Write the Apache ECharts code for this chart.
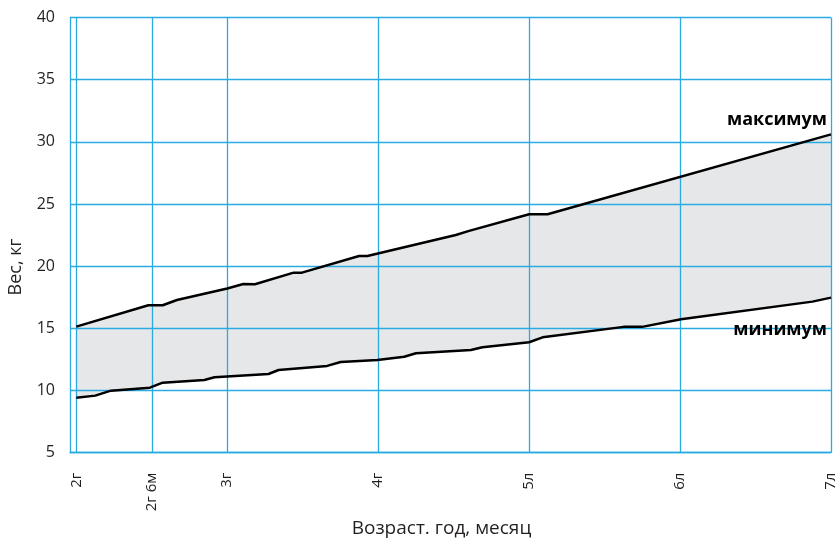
<!DOCTYPE html>
<html>
<head>
<meta charset="utf-8">
<script src="https://cdn.jsdelivr.net/npm/echarts@6/dist/echarts.min.js"></script>
<style>html,body{margin:0;padding:0;background:#fff}#c{width:840px;height:539px}</style>
</head>
<body>
<div id="c"></div>
<script>
// Age in months, weight in kg
const maxAge    = [24, 29.73, 30.87, 32.0, 36.0, 37.28, 38.2, 41.28, 41.94, 46.48, 47.14, 54.17, 55.23, 60.0, 61.47, 84.0];
const maxWeight = [15.14, 16.86, 16.86, 17.28, 18.2, 18.57, 18.55, 19.48, 19.48, 20.82, 20.82, 22.51, 22.84, 24.18, 24.18, 30.6];
const minAge    = [24, 25.51, 26.75, 29.85, 30.87, 34.18, 34.99, 39.28, 40.08, 43.94, 45.02, 47.94, 50.07, 51.0, 55.37, 56.29, 60.0, 61.07, 67.51, 68.99, 72.08, 82.52, 84.0];
const minWeight = [9.42, 9.59, 9.99, 10.23, 10.63, 10.85, 11.07, 11.33, 11.65, 11.98, 12.30, 12.46, 12.72, 13.0, 13.26, 13.48, 13.88, 14.28, 15.12, 15.12, 15.73, 17.15, 17.47];
const tickMonths = [24, 30, 36, 48, 60, 72, 84];
const tickLabels = ['2г', '2г 6м', '3г', '4г', '5л', '6л', '7л'];

const toPairs = (xs, ys) => xs.map((x, i) => [x, ys[i]]);
const blue = '#29abe2';
const txt = '#231f20';
const font = 'Open Sans';

const chart = echarts.init(document.getElementById('c'));
chart.setOption({
  animation: false,
  grid: { left: 70, right: 9, top: 17.5, bottom: 86.3, containLabel: false, outerBoundsMode: 'none' },
  xAxis: {
    type: 'value', min: 23.5, max: 84, z: 3,
    name: 'Возраст. год, месяц', nameLocation: 'middle', nameGap: 63,
    nameTextStyle: { fontFamily: font, fontSize: 19, color: txt, padding: [0, 18, 0, 0] },
    axisLine: { show: true, lineStyle: { color: blue, width: 1.3 } },
    axisTick: { show: false, customValues: tickMonths },
    axisLabel: {
      customValues: tickMonths, rotate: 90, margin: 20,
      fontFamily: font, fontSize: 15, color: txt,
      formatter: v => tickLabels[tickMonths.indexOf(v)]
    },
    splitLine: { show: true, lineStyle: { color: blue, width: 1.3 } }
  },
  yAxis: {
    type: 'value', min: 5, max: 40, interval: 5, z: 3,
    name: 'Вес, кг', nameLocation: 'middle', nameGap: 45,
    nameTextStyle: { fontFamily: font, fontSize: 18, color: txt, padding: [0, 64, 0, 0] },
    axisLine: { show: true, lineStyle: { color: blue, width: 1.3 } },
    axisTick: { show: false },
    axisLabel: { margin: 15, fontFamily: font, fontSize: 16, color: txt },
    splitLine: { show: true, lineStyle: { color: blue, width: 1.3 } }
  },
  series: [
    {
      type: 'custom', z: 1, silent: true,
      data: [[24, 15]],
      renderItem: function (params, api) {
        const pts = [];
        for (let i = 0; i < maxAge.length; i++) pts.push(api.coord([maxAge[i], maxWeight[i]]));
        for (let i = minAge.length - 1; i >= 0; i--) pts.push(api.coord([minAge[i], minWeight[i]]));
        return { type: 'polygon', shape: { points: pts }, style: { fill: '#e6e7e8' } };
      }
    },
    {
      name: 'максимум', type: 'line', z: 5, showSymbol: false, silent: true,
      data: toPairs(maxAge, maxWeight),
      lineStyle: { color: '#000', width: 2.5 },
      endLabel: { show: true, formatter: 'максимум', distance: 0, align: 'right', verticalAlign: 'middle',
        offset: [-4, -15], fontFamily: font, fontWeight: 'bold', fontSize: 18, color: '#000' }
    },
    {
      name: 'минимум', type: 'line', z: 5, showSymbol: false, silent: true,
      data: toPairs(minAge, minWeight),
      lineStyle: { color: '#000', width: 2.5 },
      endLabel: { show: true, formatter: 'минимум', distance: 0, align: 'right', verticalAlign: 'middle',
        offset: [-4, 32], fontFamily: font, fontWeight: 'bold', fontSize: 18, color: '#000' }
    }
  ]
});
</script>
</body>
</html>
